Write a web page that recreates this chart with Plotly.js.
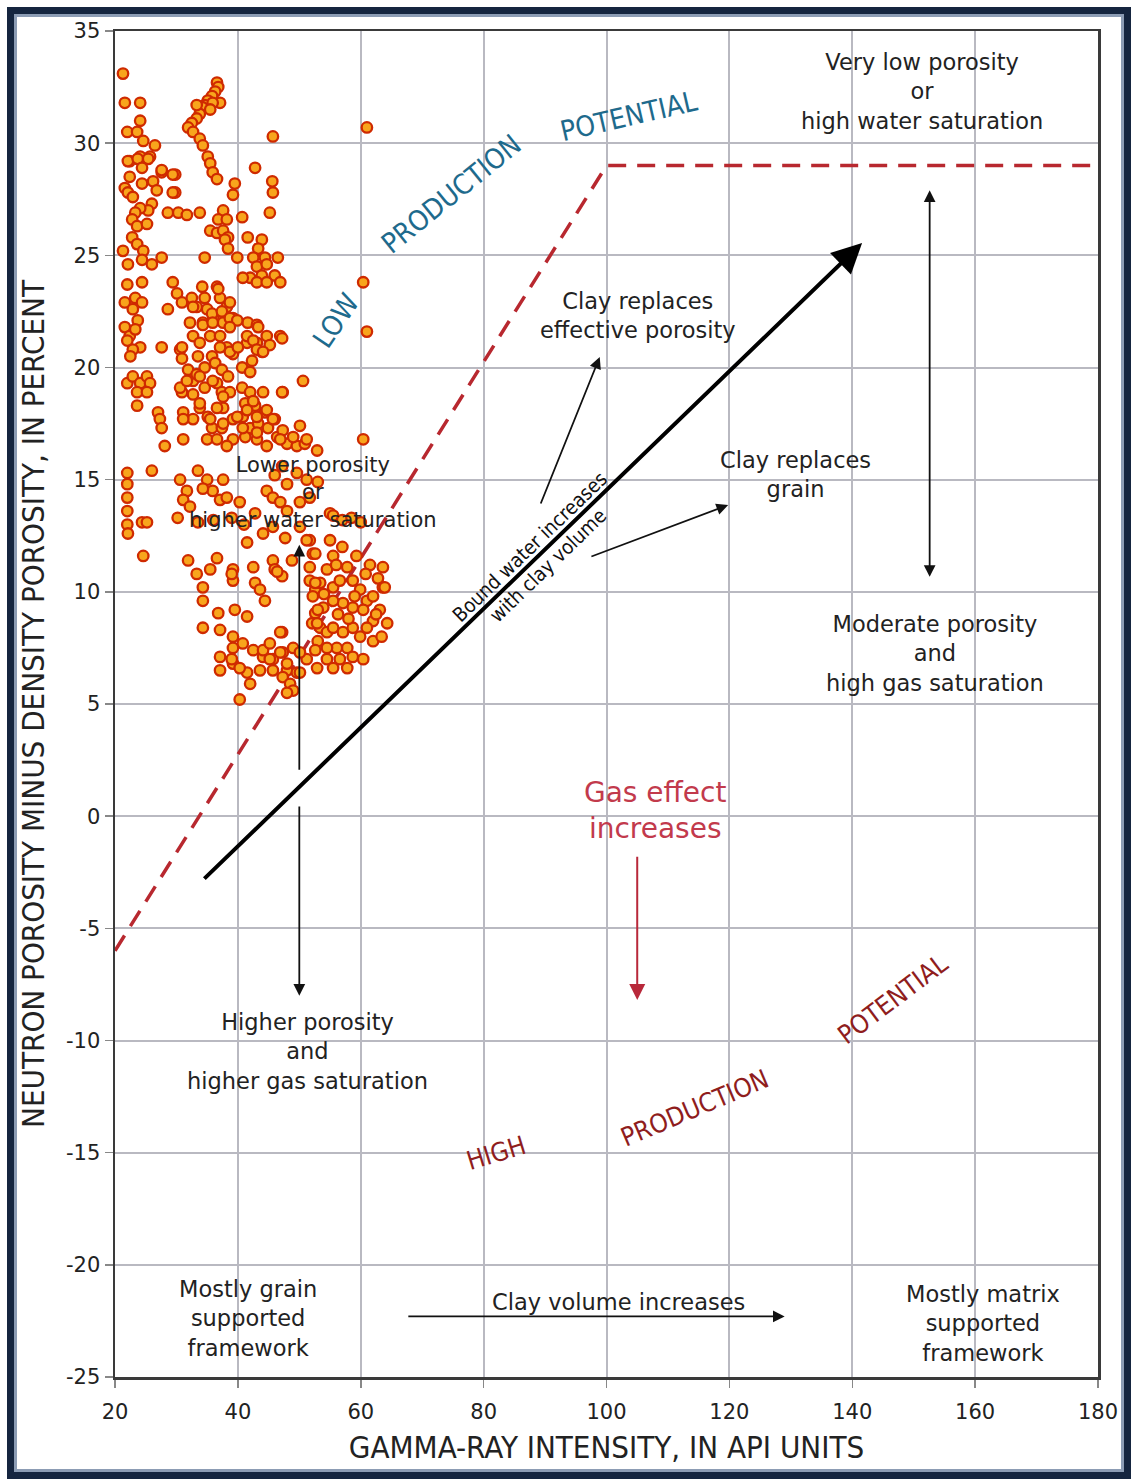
<!DOCTYPE html>
<html>
<head>
<meta charset="utf-8">
<script src="https://cdn.plot.ly/plotly-3.0.1.min.js"></script>
<style>
  html, body { margin: 0; padding: 0; background: #f4f6f8; }
  #wrap { position: relative; width: 1131px; height: 1479px; }
  #chart { position: absolute; left: 0; top: 0; width: 1131px; height: 1479px; }
  #frame { position: absolute; left: 7px; top: 7px; width: 1124px; height: 1472px; box-sizing: border-box;
           border: 7px solid #15253f; box-shadow: inset 0 0 0 3px #8c9cb4; pointer-events: none; }
</style>
</head>
<body>
<div id="wrap"><div id="chart"></div><div id="frame"></div></div>
<script>
// ---- data ----
// gamma-ray (API units) and neutron-minus-density porosity (percent), grouped by area of the cloud
const gammaLeftUpper = [21.3,21.6,24.1,24.1,22,23.6,24.6,26.5,25.7,22.4,24.1,22.1,23.7,25.4,24.4,27.6,29.8,29.8,22.4,21.6,22.1,22.9,24.4,26.2,26.8,26.0,25.4,24.1,23.3,22.8,23.6,25.2,22.8,23.6,21.3,22.1,24.6,24.4,26,27.6,22,24.4,23.3,21.6,24.4,22.9,23.7,21.6,22.4,23.3,24.1,22.9,22,22.5];
const porosLeftUpper = [33.1,31.8,31.8,31.0,30.5,30.5,30.1,29.9,29.4,29.2,29.4,29.2,29.3,29.3,28.9,28.7,28.6,27.8,28.5,28.0,27.8,27.6,28.2,28.3,27.9,27.3,27.0,27.1,26.9,26.6,26.3,26.4,25.8,25.5,25.2,24.6,25.2,24.8,24.6,24.9,23.7,23.8,23.1,22.9,22.9,22.6,22.1,21.8,21.4,21.7,20.9,20.8,21.2,20.5];

const gammaLeftLower = [22,22.9,24.1,25.2,25.7,23.6,25.2,23.6,27,27.3,27.6,28.1,26,22,22,22,22,22,22.1,24.4,25.2,24.6,27.6,28.6];
const porosLeftLower = [19.3,19.6,19.3,19.6,19.3,18.9,18.9,18.3,18.0,17.7,17.3,16.5,15.4,15.3,14.8,14.2,13.6,13.0,12.6,13.1,13.1,11.6,20.9,22.6];

const gammaStreak = [36.6,36.8,36.3,35.8,35.1,34.6,34.2,33.8,33.3,32.5,31.9,32.7,33.8,34.3,35.1,35.5,35.9,36.6,37.1,35.9,35.5,33.3,45.7,42.8,45.6,45.7,45.2,39.5,39.2,27.6,29.4,29.4,28.6,30.3,31.7,33.8,37.6,36.8,38.2,35.5,36.6,37.6,38.4,37.9,40.7,41.6,43.9,43.3,42.5,44.4,46.5,43.1,44.7,46,43.9,42,43.1,44.7,46.9,40.8,38.4,39.9,34.6];
const porosStreak = [32.7,32.5,32.3,32.1,31.9,31.7,31.6,31.3,31.1,30.9,30.7,30.5,30.2,29.9,29.4,29.1,28.7,28.4,31.8,31.8,31.5,31.7,30.3,28.9,28.3,27.8,26.9,28.2,27.7,28.8,28.6,27.8,26.9,26.9,26.8,26.9,27.0,26.6,26.6,26.1,26.0,26.1,25.8,25.7,26.7,25.8,25.7,25.3,24.9,24.9,24.9,24.5,24.6,24.1,24.1,24.0,23.8,23.8,23.8,24.0,25.3,24.9,24.9];

const gammaOutliers = [61,60.4,61,60.4,63.6,63.6];
const porosOutliers = [30.7,23.8,21.6,16.8,11.1,10.2];

const gammaMidA = [29.4,30.1,30.9,32.5,34.2,34.6,33.3,35,36.6,37.1,38.2,36,34.3,37.6,39.2,32.2,32.7,35.5,37.1,41.6,43.1,44.7,46.9,43.1,41.5,38.2,33.8,30.6,39.2,43.9];
const porosMidA = [23.8,23.3,22.9,23.1,23.6,23.1,22.7,22.6,23.6,23.1,22.7,22.2,22.0,22.0,22.2,22.0,21.4,21.4,21.4,22.0,21.9,21.4,21.4,21.1,21.1,20.9,21.1,20.8,20.6,20.7];

const gammaMidB = [36.8,38.7,32.7,35.8,37.4,38.7,39.9,34.3,35.9,38.7,30.9,30.9,33.5,35.8,37.1,38.7,40,43.3,41.5,42.5,45.2,47.2,43.1,44.1,40.7,42.3,42,31.9,32.7,34.6,36.3,37.4,38.4,36.6,34.6,37.4,38.7,30.9,32.7,33.8,37.6,40.7,42,41.2,44.1,42.8,44.4,47.3,50.6,31.1,32.7,35.1,35.8,37.4,39.2,40.8,42,43.3,44.9,46,50.1,39.2,41.2,43.1,44.7,46.4,48,49.6,50.9];
const porosMidB = [23.5,22.9,22.7,22.4,22.5,22.2,22.1,21.9,22.0,21.8,20.9,20.4,20.5,20.5,20.9,20.7,20.9,21.8,21.4,21.2,21.0,21.3,20.8,20.7,20.0,20.3,19.8,19.9,19.4,20.0,20.2,19.9,19.6,19.3,19.1,18.9,18.9,18.9,18.8,18.2,18.2,19.1,18.9,18.4,18.9,18.3,18.0,18.9,19.4,18.0,17.7,17.8,17.3,17.3,17.7,17.8,17.3,17.5,17.3,17.7,17.4,16.8,16.9,16.8,16.5,16.9,16.6,16.5,16.6];

const gammaMidC = [30.6,31.7,33.3,31.1,33.8,35.5,36.6,37.6,35,36.6,38.2,31.1,33.8,35.9,37.6,42.5,41.5,43.1,44.7,45.7,47.3,49,51.2,46.9,43.1,40.8,39.9,47.2,52.9];
const porosMidC = [19.1,19.4,19.7,17.7,18.4,17.7,18.2,17.5,16.8,16.8,16.5,16.8,19.6,19.4,18.7,18.5,18.1,17.8,18.1,17.7,17.2,16.9,16.8,16.8,17.1,17.3,17.8,18.9,16.3];

const gammaBand = [30.6,31.7,31.1,32.2,35,35.9,37.1,38.2,37.6,40.3,42.8,44.7,45.7,46.9,48,50.1,51.7,53,51.2,49.6,48,44.1,45.7,47.7,50.1,51.7,52.2,55,55,41.5,33.5,34.3,47.2,46,55.5,57,58.5,60,30.2,33.5,36,39,41];
const porosBand = [15.0,14.5,14.1,13.8,15.0,14.5,14.1,14.2,15.0,14.0,13.5,14.5,14.2,14.0,13.6,14.0,14.2,14.9,15.0,15.3,14.8,12.6,12.9,12.4,12.9,12.3,11.7,13.5,12.3,12.2,15.4,14.6,15.6,15.2,13.4,13.2,13.3,13.1,13.3,13.1,13.2,13.3,13.0];

const gammaLow = [31.9,33.3,34.3,34.3,35.5,36.6,39.2,39.2,42.5,42.8,44.4,45.7,46,47.2,36.8,39.5,41.5,34.3,37.1,39.2,40.8,42.5,44.1,45.7,47.2,47.3,48,49.6,45.7,43.6,41.5,39.2,37.1,37.1,40.3,39,43.6,46.4,48.8,39,40.3,39.2,44.1,45.2,46.9,48,47.3,48.5,50.1,51.2,52.9,42,45.2,46.9,49,50.1,49,48];
const porosLow = [11.4,10.8,10.2,9.6,11.0,11.5,11.0,10.5,11.1,10.4,9.6,11.4,11.0,10.7,9.05,9.2,8.9,8.4,8.3,8.0,7.7,7.4,7.1,7.0,8.2,7.3,6.5,6.4,6.5,6.5,6.4,6.8,6.5,7.1,5.2,10.8,10.1,10.9,11.4,7.0,6.6,7.5,7.4,7.0,7.3,6.8,6.2,5.9,6.4,7.0,6.6,5.9,7.7,8.2,7.5,7.3,5.6,5.5];

const gammaRight = [51.7,52.6,53.4,54.5,55.5,56.6,57.8,58.7,59.9,61,62,63.9,63.1,64.3,62,60.4,58.7,57.1,55.5,53.9,52.6,52.1,53.4,54.5,55.5,57.1,58.7,59.9,61,57.8,56.1,54.5,53,52.6,54.5,56.6,58.7,60.4,62,55.5,57.8,51.2,52.6,51.7,52.6,52.2,53,52.9,55.5,57,59.3,61.5,62.8,60.8,56,59,62.5,56.3,54,58,63.4];
const porosRight = [10.5,10.1,10.4,11.0,10.2,10.5,11.1,10.5,10.1,9.6,9.8,10.2,9.2,8.6,8.7,9.2,9.3,9.5,9.6,9.3,9.05,8.6,8.4,8.2,8.4,8.2,8.4,8.0,8.4,7.5,7.5,7.5,7.8,7.4,7.0,7.0,7.1,7.0,7.8,6.6,6.6,12.3,11.7,11.1,10.4,9.8,9.2,8.6,11.6,12.0,11.6,11.2,10.6,10.8,11.2,9.8,9.0,9.0,9.9,8.8,8.0];

// low / high production potential boundary
const boundaryGamma = [20, 100, 180];
const boundaryPoros = [-6, 29, 29];

// axis ticks
const xTicks = [20, 40, 60, 80, 100, 120, 140, 160, 180];
const yTicks = [35, 30, 25, 20, 15, 10, 5, 0, -5, -10, -15, -20, -25];

// ---- build ----
const gammaAll = [].concat(gammaLeftUpper, gammaLeftLower, gammaStreak, gammaOutliers, gammaMidA, gammaMidB, gammaMidC, gammaBand, gammaLow, gammaRight);
const porosAll = [].concat(porosLeftUpper, porosLeftLower, porosStreak, porosOutliers, porosMidA, porosMidB, porosMidC, porosBand, porosLow, porosRight);

const traces = [
  {
    x: boundaryGamma, y: boundaryPoros, type: 'scatter', mode: 'lines',
    line: { color: '#b8282f', width: 3.5, dash: '18px,11px' }, hoverinfo: 'skip', cliponaxis: false
  },
  {
    x: gammaAll, y: porosAll, type: 'scatter', mode: 'markers',
    marker: { symbol: 'circle', size: 10.5, color: '#f8a51c', line: { color: '#cf2a00', width: 2.3 } },
    hoverinfo: 'skip'
  }
];

const noteFont = { family: 'DejaVu Sans, sans-serif', size: 22.5, color: '#222' };
const narrow = 'Liberation Sans Narrow, DejaVu Sans Condensed, Arial Narrow, sans-serif';
const blue = '#1e6a8c';
const darkRed = '#8f1d1d';

function note(x, y, text, extra) {
  return Object.assign({ x: x, y: y, xref: 'x', yref: 'y', text: text, showarrow: false, font: noteFont }, extra || {});
}
function arrow(x0, y0, x1, y1, opts) {
  return Object.assign({
    x: x1, y: y1, ax: x0, ay: y0, xref: 'x', yref: 'y', axref: 'x', ayref: 'y',
    text: '', showarrow: true, arrowhead: 2, arrowsize: 1.3, arrowwidth: 1.8, arrowcolor: '#111', standoff: 0
  }, opts || {});
}

const annotations = [
  note(151.3, 32.3, 'Very low porosity<br>or<br>high water saturation'),
  note(105.1, 22.3, 'Clay replaces<br>effective porosity'),
  note(130.7, 15.25, 'Clay replaces<br>grain'),
  note(52.2, 14.45, 'Lower porosity<br>or<br>higher water saturation', { font: { family: 'DejaVu Sans, sans-serif', size: 21, color: '#222' } }),
  note(153.5, 7.27, 'Moderate porosity<br>and<br>high gas saturation'),
  note(107.9, 0.25, 'Gas effect<br>increases', { font: { family: 'DejaVu Sans, sans-serif', size: 28, color: '#c23a4c' } }),
  note(51.4, -10.5, 'Higher porosity<br>and<br>higher gas saturation'),
  note(41.6, -22.4, 'Mostly grain<br>supported<br>framework'),
  note(101.9, -21.65, 'Clay volume increases'),
  note(161.3, -22.6, 'Mostly matrix<br>supported<br>framework'),
  note(89.0, 11.6, 'Bound water increases<br>with clay volume',
       { textangle: -44, font: { family: 'DejaVu Sans Condensed, DejaVu Sans, sans-serif', size: 20, color: '#111' } }),
  note(56.0, 22.1, 'LOW', { textangle: -56, font: { family: narrow, size: 28, color: blue } }),
  note(74.7, 27.7, 'PRODUCTION', { textangle: -39, font: { family: narrow, size: 28, color: blue } }),
  note(103.5, 31.2, 'POTENTIAL', { textangle: -13, font: { family: narrow, size: 28, color: blue } }),
  note(82.0, -15.0, 'HIGH', { textangle: -17, font: { family: narrow, size: 26, color: darkRed } }),
  note(114.4, -13.0, 'PRODUCTION', { textangle: -23, font: { family: narrow, size: 26, color: darkRed } }),
  note(146.6, -8.15, 'POTENTIAL', { textangle: -37, font: { family: narrow, size: 26, color: darkRed } }),
  // arrows
  arrow(34.3, -2.85, 141.6, 25.55, { arrowwidth: 4, arrowsize: 1.5, arrowcolor: '#000' }),
  arrow(89.2, 13.87, 98.9, 20.47),
  arrow(97.3, 11.55, 119.8, 13.87),
  arrow(152.6, 10.6, 152.6, 27.9, { arrowside: 'end+start' }),
  arrow(50, 2.0, 50, 12.1),
  arrow(50, 0.5, 50, -8.0),
  arrow(105, -1.74, 105, -8.2, { arrowcolor: '#b8283a', arrowwidth: 2, arrowsize: 1.6 }),
  arrow(67.5, -22.3, 129, -22.3)
];

const axisCommon = {
  showgrid: true, gridcolor: '#b9b9c1', gridwidth: 2,
  showline: true, linecolor: '#3a3a3a', linewidth: 2.5, mirror: true,
  ticks: 'outside', ticklen: 8, tickcolor: '#888', tickwidth: 1.5,
  zeroline: false, tickmode: 'array'
};

const layout = {
  width: 1131, height: 1479,
  margin: { l: 115, r: 33, t: 31, b: 102 },
  paper_bgcolor: '#ffffff', plot_bgcolor: '#ffffff',
  showlegend: false,
  xaxis: Object.assign({}, axisCommon, {
    range: [20, 180], tickvals: xTicks, ticktext: xTicks.map(String),
    tickfont: { family: 'DejaVu Sans, sans-serif', size: 21, color: '#222' },
    ticklabelstandoff: 6,
    title: { text: 'GAMMA-RAY INTENSITY, IN API UNITS', font: { family: narrow, size: 31, color: '#222' }, standoff: 14 }
  }),
  yaxis: Object.assign({}, axisCommon, {
    range: [-25, 35], tickvals: yTicks, ticktext: yTicks.map(String),
    tickfont: { family: 'DejaVu Sans, sans-serif', size: 21, color: '#222' },
    title: { text: 'NEUTRON POROSITY MINUS DENSITY POROSITY, IN PERCENT', font: { family: narrow, size: 31, color: '#222' }, standoff: 12 }
  }),
  annotations: annotations
};

Plotly.newPlot('chart', traces, layout, { staticPlot: true, displayModeBar: false });
</script>
</body>
</html>
